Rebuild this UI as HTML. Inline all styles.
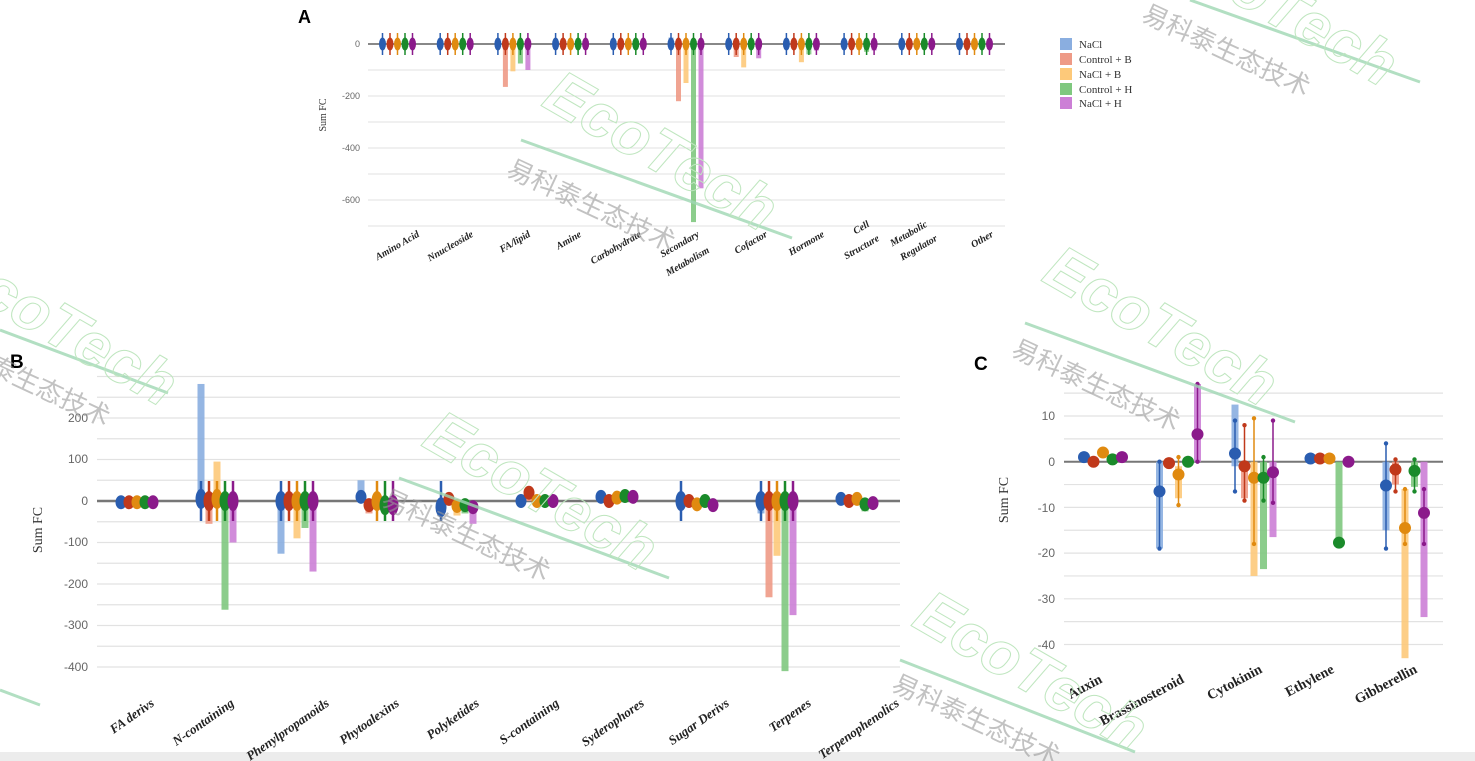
<!DOCTYPE html>
<html><head><meta charset="utf-8"><style>
html,body{margin:0;padding:0;background:#fff;}
svg{display:block;}
.ax{font-family:"Liberation Sans",sans-serif;fill:#666;}
.cat{font-family:"Liberation Serif",serif;font-weight:bold;font-style:italic;fill:#222;}
.yt{font-family:"Liberation Serif",serif;fill:#333;}
.pl{font-family:"Liberation Sans",sans-serif;font-weight:bold;fill:#000;}
.lg{font-family:"Liberation Serif",serif;fill:#333;font-size:11px;}
.wm{font-family:"Liberation Sans","Noto Sans CJK SC",sans-serif;fill:#9a9a9a;opacity:.6;}
.eco{font-family:"Liberation Sans",sans-serif;font-weight:bold;font-style:italic;fill:none;stroke:#bfe6bf;stroke-width:1;}
</style></head><body>
<svg id="s" width="1475" height="761" viewBox="0 0 1475 761" xmlns="http://www.w3.org/2000/svg">
<rect x="0" y="0" width="1475" height="761" fill="#fff"/>
<rect x="0" y="752" width="1475" height="9" fill="#ececec"/>
<g id="grid"></g>
<g id="bars"></g>
<g id="dots"></g>

<text class="pl" x="298" y="23" font-size="18">A</text>
<g class="ax" font-size="9" text-anchor="end">
<text x="360" y="47">0</text><text x="360" y="99">-200</text><text x="360" y="151">-400</text><text x="360" y="203">-600</text>
</g>
<text class="yt" font-size="10" transform="translate(326,115) rotate(-90)" text-anchor="middle">Sum FC</text>
<g class="cat" font-size="10" text-anchor="end">
<text transform="translate(420,236) rotate(-30)">Amino Acid</text>
<text transform="translate(474,236) rotate(-30)">Nnucleoside</text>
<text transform="translate(531,236) rotate(-30)">FA/lipid</text>
<text transform="translate(582,236) rotate(-30)">Amine</text>
<text transform="translate(642,236) rotate(-30)">Carbohydrate</text>
<text transform="translate(700,236) rotate(-30)">Secondary</text>
<text transform="translate(710,252) rotate(-30)">Metabolism</text>
<text transform="translate(768,236) rotate(-30)">Cofactor</text>
<text transform="translate(825,236) rotate(-30)">Hormone</text>
<text transform="translate(870,226) rotate(-30)">Cell</text>
<text transform="translate(880,240) rotate(-30)">Structure</text>
<text transform="translate(928,226) rotate(-30)">Metabolic</text>
<text transform="translate(938,240) rotate(-30)">Regulator</text>
<text transform="translate(994,236) rotate(-30)">Other</text>
</g>
<g>
<rect x="1060" y="38" width="12" height="12" fill="#8aaee0"/><text class="lg" x="1079" y="48">NaCl</text>
<rect x="1060" y="53" width="12" height="12" fill="#ee9a86"/><text class="lg" x="1079" y="63">Control + B</text>
<rect x="1060" y="68" width="12" height="12" fill="#fdc97a"/><text class="lg" x="1079" y="78">NaCl + B</text>
<rect x="1060" y="83" width="12" height="12" fill="#7fc87f"/><text class="lg" x="1079" y="93">Control + H</text>
<rect x="1060" y="97" width="12" height="12" fill="#cc7fd6"/><text class="lg" x="1079" y="107">NaCl + H</text>
</g>

<text class="pl" x="10" y="368" font-size="19">B</text>
<g class="ax" font-size="12" text-anchor="end">
<text x="88" y="422">200</text><text x="88" y="463">100</text><text x="88" y="505">0</text>
<text x="88" y="546">-100</text><text x="88" y="588">-200</text><text x="88" y="629">-300</text><text x="88" y="671">-400</text>
</g>
<text class="yt" font-size="14" transform="translate(42,530) rotate(-90)" text-anchor="middle">Sum FC</text>
<g class="cat" font-size="13" text-anchor="end">
<text transform="translate(155,705) rotate(-35)">FA derivs</text>
<text transform="translate(235,705) rotate(-35)">N-containing</text>
<text transform="translate(330,705) rotate(-35)">Phenylpropanoids</text>
<text transform="translate(400,705) rotate(-35)">Phytoalexins</text>
<text transform="translate(480,705) rotate(-35)">Polyketides</text>
<text transform="translate(560,705) rotate(-35)">S-containing</text>
<text transform="translate(645,705) rotate(-35)">Syderophores</text>
<text transform="translate(730,705) rotate(-35)">Sugar Derivs</text>
<text transform="translate(812,705) rotate(-35)">Terpenes</text>
<text transform="translate(900,705) rotate(-35)">Terpenophenolics</text>
</g>

<text class="pl" x="974" y="370" font-size="19">C</text>
<g class="ax" font-size="12" text-anchor="end">
<text x="1055" y="420">10</text><text x="1055" y="466">0</text><text x="1055" y="512">-10</text>
<text x="1055" y="557">-20</text><text x="1055" y="603">-30</text><text x="1055" y="649">-40</text>
</g>
<text class="yt" font-size="14" transform="translate(1008,500) rotate(-90)" text-anchor="middle">Sum FC</text>
<g class="cat" font-size="14" text-anchor="end" style="font-style:normal">
<text transform="translate(1103,682) rotate(-28)">Auxin</text>
<text transform="translate(1185,682) rotate(-28)">Brassinosteroid</text>
<text transform="translate(1263,672) rotate(-28)">Cytokinin</text>
<text transform="translate(1335,672) rotate(-28)">Ethylene</text>
<text transform="translate(1418,672) rotate(-28)">Gibberellin</text>
</g>

<g>
<line x1="521" y1="140" x2="792" y2="238" stroke="#9fd8b4" stroke-width="3" opacity=".8"/>
<line x1="1190" y1="0" x2="1420" y2="82" stroke="#9fd8b4" stroke-width="3" opacity=".8"/>
<line x1="0" y1="330" x2="168" y2="393" stroke="#9fd8b4" stroke-width="3" opacity=".8"/>
<line x1="399" y1="478" x2="669" y2="578" stroke="#9fd8b4" stroke-width="3" opacity=".8"/>
<line x1="1025" y1="323" x2="1295" y2="422" stroke="#9fd8b4" stroke-width="3" opacity=".8"/>
<line x1="900" y1="660" x2="1135" y2="752" stroke="#9fd8b4" stroke-width="3" opacity=".8"/>
<line x1="0" y1="690" x2="40" y2="705" stroke="#9fd8b4" stroke-width="3" opacity=".8"/>
<text class="eco" font-size="62" transform="translate(540,105) rotate(30)">EcoTech</text>
<text class="eco" font-size="62" transform="translate(1040,280) rotate(30)">EcoTech</text>
<text class="eco" font-size="62" transform="translate(420,445) rotate(30)">EcoTech</text>
<text class="eco" font-size="62" transform="translate(910,625) rotate(30)">EcoTech</text>
<text class="eco" font-size="62" transform="translate(-60,280) rotate(30)">EcoTech</text>
<text class="eco" font-size="62" transform="translate(1160,-40) rotate(30)">EcoTech</text>
<text class="wm" font-size="26" transform="translate(505,175) rotate(25)">易科泰生态技术</text>
<text class="wm" font-size="26" transform="translate(1140,20) rotate(25)">易科泰生态技术</text>
<text class="wm" font-size="26" transform="translate(1010,355) rotate(25)">易科泰生态技术</text>
<text class="wm" font-size="26" transform="translate(380,505) rotate(25)">易科泰生态技术</text>
<text class="wm" font-size="26" transform="translate(890,690) rotate(25)">易科泰生态技术</text>
<text class="wm" font-size="26" transform="translate(-60,350) rotate(25)">易科泰生态技术</text>
</g>
</svg>
<script>
var NS="http://www.w3.org/2000/svg";
function el(p,t,a){var e=document.createElementNS(NS,t);for(var k in a)e.setAttribute(k,a[k]);document.getElementById(p).appendChild(e);return e;}
var C=['#8aaee0','#ee9a86','#fdc97a','#7fc87f','#cc7fd6'],D=['#2a5db0','#c0391b','#e08a10','#1a8a2a','#8b1a8b'];
function bar(x,y1,y2,w,c){var a=Math.min(y1,y2),b=Math.max(y1,y2);el('bars','rect',{x:x-w/2,y:a,width:w,height:Math.max(b-a,0.5),fill:c,opacity:.9});}
var zA=44,kA=0.26;
for(var v=0;v>=-700;v-=100){el('grid','line',{x1:368,x2:1005,y1:zA-v*kA,y2:zA-v*kA,stroke:v==0?'#888':'#e2e2e2','stroke-width':v==0?2:1});}
var A=[[0,-8,-8,-5,-5],[0,0,8,0,0],[0,-165,-105,-75,-100],[0,0,-5,-5,-5],[0,5,0,-5,0],[25,-220,-150,-685,-555],[0,-50,-90,-10,-55],[0,0,-70,-40,-25],[0,-10,-20,-30,-25],[0,0,0,-5,0],[0,0,0,0,0]];
var off=[-15,-7.5,0,7.5,15];
A.forEach(function(g,i){var cx=397.5+57.7*i;g.forEach(function(v,j){var x=cx+off[j];if(v)bar(x,zA,zA-v*kA,5,C[j]);
el('dots','line',{x1:x,x2:x,y1:zA-11,y2:zA+11,stroke:D[j],'stroke-width':1.5});
el('dots','ellipse',{cx:x,cy:zA,rx:3.5,ry:6.5,fill:D[j]});});});
var zB=501,kB=0.415;
for(var v=300;v>=-400;v-=50){el('grid','line',{x1:97,x2:900,y1:zB-v*kB,y2:zB-v*kB,stroke:v==0?'#777':'#e2e2e2','stroke-width':v==0?2.5:1.2});}
var B=[[-5,-5,-5,-5,-5],[282,-55,95,-262,-100],[-127,20,-90,-65,-170],[50,-30,-5,-30,-30],[-30,5,-35,-30,-55],[0,20,0,0,0],[10,0,10,15,10],[-5,-5,-15,-5,-15],[-30,-232,-132,-410,-275],[5,-5,10,-25,-10]];
var BD=[[-3,-3,-3,-3,-3],[5,0,5,0,0],[0,0,0,0,0],[10,-10,0,-10,-10],[-15,5,-12,-10,-15],[0,20,0,0,0],[10,0,8,12,10],[0,0,-8,0,-10],[0,0,0,0,0],[5,0,5,-8,-5]];
var BW=[[0,0,0,0,0],[1,1,1,1,1],[1,1,1,1,1],[0,0,1,1,1],[1,0,0,0,0],[0,0,0,0,0],[0,0,0,0,0],[1,0,0,0,0],[1,1,1,1,1],[0,0,0,0,0]];
var offB=[-16,-8,0,8,16];
B.forEach(function(g,i){var cx=137+80*i;g.forEach(function(v,j){var x=cx+offB[j];if(v)bar(x,zB,zB-v*kB,7,C[j]);
var dy=zB-BD[i][j]*kB;if(BW[i][j])el('dots','line',{x1:x,x2:x,y1:zB-20,y2:zB+20,stroke:D[j],'stroke-width':2.5});
el('dots','ellipse',{cx:x,cy:dy,rx:5.5,ry:BW[i][j]?10:7,fill:D[j]});});});
var zC=461.7,kC=4.57;
for(var v=15;v>=-40;v-=5){el('grid','line',{x1:1064,x2:1443,y1:zC-v*kC,y2:zC-v*kC,stroke:v==0?'#777':'#e2e2e2','stroke-width':v==0?2:1.2});}
var offC=[-19,-9.5,0,9.5,19];
var Cd=[
[[0,0,1,null],[0,0,0,null],[0,0,2,null],[0,0,0.5,null],[0,0,1,null]],
[[0,-19,-6.5,0,-19],[0,0,-0.3,null],[-1,-8,-2.8,1,-9.5],[0,0,0,null],[17,0,6,17,0]],
[[12.5,-1,1.8,9,-6.5],[0,-8,-1,8,-8.5],[0,-25,-3.5,9.5,-18],[0,-23.5,-3.5,1,-8.5],[0,-16.5,-2.3,9,-9]],
[[0,0,0.7,null],[0,0,0.7,null],[0,0,0.7,null],[0,-17.5,-17.7,null],[0,0,0,null]],
[[0,-15,-5.2,4,-19],[0,-5,-1.7,0.5,-6.5],[-6,-43,-14.5,-6,-18],[0,-5.5,-2,0.5,-6.5],[0,-34,-11.2,-6,-18]]];
Cd.forEach(function(g,i){var cx=1103+75.5*i;g.forEach(function(d,j){var x=cx+offC[j];
if(d[0]!=d[1])bar(x,zC-d[0]*kC,zC-d[1]*kC,7,C[j]);
if(d[3]!=null){el('dots','line',{x1:x,x2:x,y1:zC-d[3]*kC,y2:zC-d[4]*kC,stroke:D[j],'stroke-width':1.5});
el('dots','circle',{cx:x,cy:zC-d[3]*kC,r:2.2,fill:D[j]});el('dots','circle',{cx:x,cy:zC-d[4]*kC,r:2.2,fill:D[j]});}
el('dots','circle',{cx:x,cy:zC-d[2]*kC,r:6,fill:D[j]});});});
</script>
</body></html>
